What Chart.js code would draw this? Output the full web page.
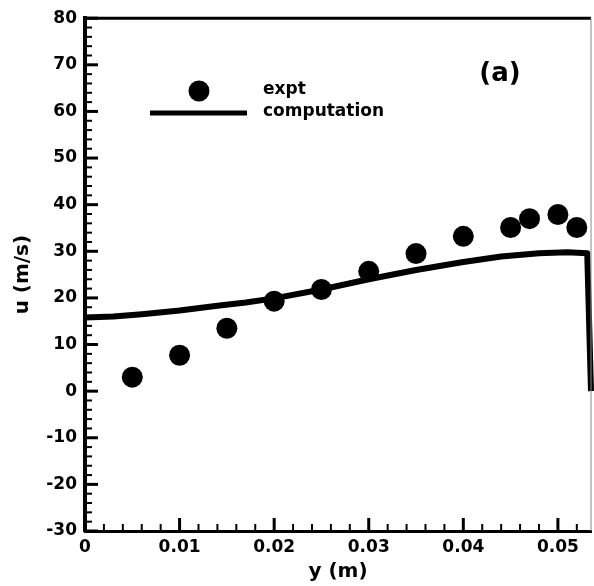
<!DOCTYPE html>
<html lang="en">
<head>
    <meta charset="UTF-8">
    <title>u vs y</title>
    <script src="https://cdn.jsdelivr.net/npm/chart.js"></script>
    <style>
        body {
            margin: 0;
            background: #ffffff;
        }
        #wrap {
            width: 594px;
            height: 586px;
        }
    </style>
</head>
<body>
    <div id="wrap">
        <canvas id="uChart" width="594" height="586"></canvas>
    </div>
    <script>
        // experimental points
        const yExpt = [0.005, 0.010, 0.015, 0.020, 0.025, 0.030, 0.035, 0.040, 0.045, 0.047, 0.050, 0.052];
        const uExpt = [3.0, 7.7, 13.5, 19.3, 21.8, 25.7, 29.5, 33.2, 35.1, 37.0, 37.9, 35.1];

        // computed profile
        const yComp = [0, 0.003, 0.006, 0.010, 0.014, 0.017, 0.020, 0.025, 0.030, 0.035, 0.040, 0.044, 0.048, 0.051, 0.0531, 0.0535];
        const uComp = [15.8, 16.0, 16.5, 17.3, 18.3, 19.0, 19.9, 21.8, 24.0, 26.0, 27.7, 28.9, 29.6, 29.8, 29.6, 0];

        // axis labels
        const xTickValues = [0, 0.01, 0.02, 0.03, 0.04, 0.05];
        const xTickLabels = ['0', '0.01', '0.02', '0.03', '0.04', '0.05'];

        const seriesNames = ['expt', 'computation'];
        const panelLabel = '(a)';

        const FONT = 'DejaVu Sans';

        // inward ticks, frame, legend and panel label
        const framePlugin = {
            id: 'frame',
            afterDraw(chart) {
                const ctx = chart.ctx;
                const area = chart.chartArea;
                const xs = chart.scales.x;
                const ys = chart.scales.y;
                ctx.save();
                ctx.strokeStyle = '#000';

                // y ticks every 2, major every 10
                for (let v = -30; v <= 80; v += 2) {
                    const py = ys.getPixelForValue(v);
                    const major = v % 10 === 0;
                    ctx.lineWidth = major ? 3 : 2;
                    ctx.beginPath();
                    ctx.moveTo(area.left, py);
                    ctx.lineTo(area.left + (major ? 13 : 7), py);
                    ctx.stroke();
                }
                // x ticks every 0.002, major every 0.01
                for (let i = 0; i <= 26; i++) {
                    const px = xs.getPixelForValue(i * 0.002);
                    const major = i % 5 === 0;
                    ctx.lineWidth = major ? 3 : 2;
                    ctx.beginPath();
                    ctx.moveTo(px, area.bottom);
                    ctx.lineTo(px, area.bottom - (major ? 13 : 7));
                    ctx.stroke();
                }

                // top border and thin right border
                ctx.lineWidth = 3;
                ctx.beginPath();
                ctx.moveTo(area.left - 2, area.top);
                ctx.lineTo(area.right, area.top);
                ctx.stroke();
                ctx.lineWidth = 1;
                ctx.strokeStyle = '#888';
                ctx.beginPath();
                ctx.moveTo(area.right, area.top);
                ctx.lineTo(area.right, area.bottom);
                ctx.stroke();

                // legend
                ctx.fillStyle = '#000';
                ctx.strokeStyle = '#000';
                ctx.beginPath();
                ctx.arc(199, 91, 10.5, 0, Math.PI * 2);
                ctx.fill();
                ctx.lineWidth = 5;
                ctx.beginPath();
                ctx.moveTo(150, 113);
                ctx.lineTo(247, 113);
                ctx.stroke();
                ctx.font = 'bold 17px ' + FONT;
                ctx.textBaseline = 'middle';
                ctx.textAlign = 'left';
                ctx.fillText(seriesNames[0], 263, 90);
                ctx.fillText(seriesNames[1], 263, 112);

                ctx.font = 'bold 26px ' + FONT;
                ctx.textAlign = 'center';
                ctx.fillText(panelLabel, 500, 74);
                ctx.restore();
            }
        };

        const tickFont = { family: FONT, weight: 'bold', size: 17 };
        const titleFont = { family: FONT, weight: 'bold', size: 20 };

        new Chart(document.getElementById('uChart'), {
            type: 'scatter',
            data: {
                datasets: [
                    {
                        label: seriesNames[0],
                        data: yExpt.map((y, i) => ({ x: y, y: uExpt[i] })),
                        pointRadius: 10.5,
                        pointBackgroundColor: '#000',
                        pointBorderWidth: 0,
                        showLine: false
                    },
                    {
                        label: seriesNames[1],
                        data: yComp.map((y, i) => ({ x: y, y: uComp[i] })),
                        showLine: true,
                        borderColor: '#000',
                        borderWidth: 6,
                        borderJoinStyle: 'round',
                        pointRadius: 0,
                        tension: 0,
                        clip: false
                    }
                ]
            },
            options: {
                responsive: false,
                animation: false,
                layout: { autoPadding: false, padding: { top: 18, right: 3, left: 0, bottom: 0 } },
                plugins: {
                    legend: { display: false },
                    tooltip: { enabled: false }
                },
                scales: {
                    x: {
                        type: 'linear',
                        min: 0,
                        max: 0.0535,
                        afterFit: s => {
                            s.height = 55;
                            s.paddingRight = 0;
                        },
                        afterBuildTicks: s => {
                            s.ticks = xTickValues.map(v => ({ value: v }));
                        },
                        grid: { drawOnChartArea: false, drawTicks: false },
                        border: { display: true, color: '#000', width: 3 },
                        ticks: {
                            padding: 6,
                            color: '#000',
                            font: tickFont,
                            maxRotation: 0,
                            autoSkip: false,
                            callback: (v, i) => xTickLabels[i]
                        },
                        title: {
                            display: true,
                            text: 'y (m)',
                            color: '#000',
                            font: titleFont,
                            padding: { top: 2, bottom: 2 }
                        }
                    },
                    y: {
                        min: -30,
                        max: 80,
                        afterFit: s => { s.width = 85; },
                        grid: { drawOnChartArea: false, drawTicks: false },
                        border: { display: true, color: '#000', width: 4 },
                        ticks: {
                            stepSize: 10,
                            padding: 8,
                            color: '#000',
                            font: tickFont
                        },
                        title: {
                            display: true,
                            text: 'u (m/s)',
                            color: '#000',
                            font: titleFont,
                            padding: { top: 11, bottom: 0 }
                        }
                    }
                }
            },
            plugins: [framePlugin]
        });
    </script>
</body>
</html>
